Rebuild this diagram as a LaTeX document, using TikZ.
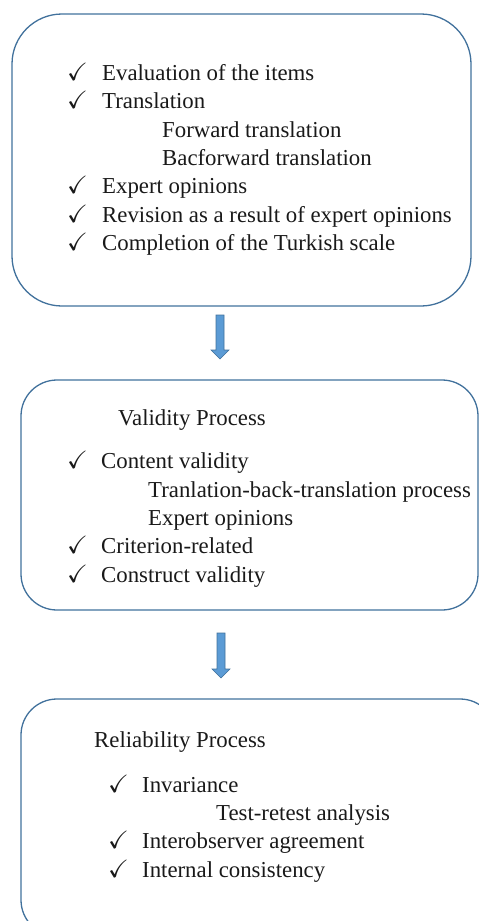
\documentclass[tikz,border=0pt]{standalone}
\usepackage{amssymb}
\usepackage{fontspec}
\setmainfont{Liberation Serif}
\definecolor{boxline}{HTML}{41719C}
\definecolor{arrowfill}{HTML}{5B9BD5}
\tikzset{
  procbox/.style={draw=boxline, line width=1.3pt},
  txt/.style={anchor=base west, inner sep=0pt, font=\fontsize{22.8}{27}\selectfont, text=black!90},
  chk/.style={anchor=base west, inner sep=0pt, font=\fontsize{25}{28}\selectfont, text=black!90},
  flowarrow/.style={draw=boxline, fill=arrowfill, line width=0.6pt}
}
\newcommand{\ck}{$\boldsymbol{\checkmark}$}
\usepackage{amsmath}
\begin{document}
\begin{tikzpicture}[x=1pt,y=-1pt]
\useasboundingbox (0,0) rectangle (479,921);
\clip (0,0) rectangle (479,921);
% boxes
\draw[procbox, rounded corners=50pt] (12,14) rectangle (471,306);
\draw[procbox, rounded corners=36pt] (21,380) rectangle (478,610);
\draw[procbox, rounded corners=36pt] (21,699) rectangle (496,936);
% arrows
\draw[flowarrow] (216,315) -- (224,315) -- (224,350) -- (229,350) -- (220,359) -- (211,350) -- (216,350) -- cycle;
\draw[flowarrow] (217,633) -- (225,633) -- (225,669) -- (230,669) -- (221,678) -- (212,669) -- (217,669) -- cycle;
% box 1
\node[chk] (c1) at (67,80) {\ck};
\node[txt] (t1) at (102,80) {Evaluation of the items};
\node[chk] (c2) at (67,108) {\ck};
\node[txt] (t2) at (102,108) {Translation};
\node[txt] (t3) at (162,137) {Forward translation};
\node[txt] (t4) at (162,165) {Bacforward translation};
\node[chk] (c5) at (67,193) {\ck};
\node[txt] (t5) at (102,193) {Expert opinions};
\node[chk] (c6) at (67,222) {\ck};
\node[txt] (t6) at (102,222) {Revision as a result of expert opinions};
\node[chk] (c7) at (67,250) {\ck};
\node[txt] (t7) at (102,250) {Completion of the Turkish scale};
% box 2
\node[txt] (v0) at (118,425) {Validity Process};
\node[chk] (vc1) at (67,468) {\ck};
\node[txt] (v1) at (101,468) {Content validity};
\node[txt] (v2) at (148,497) {Tranlation-back-translation process};
\node[txt] (v3) at (148,525) {Expert opinions};
\node[chk] (vc4) at (67,553) {\ck};
\node[txt] (v4) at (101,553) {Criterion-related};
\node[chk] (vc5) at (67,582) {\ck};
\node[txt] (v5) at (101,582) {Construct validity};
% box 3
\node[txt] (r0) at (94,747) {Reliability Process};
\node[chk] (rc1) at (108,792) {\ck};
\node[txt] (r1) at (142,792) {Invariance};
\node[txt] (r2) at (216,820) {Test-retest analysis};
\node[chk] (rc3) at (108,848) {\ck};
\node[txt] (r3) at (142,848) {Interobserver agreement};
\node[chk] (rc4) at (108,877) {\ck};
\node[txt] (r4) at (142,877) {Internal consistency};
\end{tikzpicture}
\end{document}
